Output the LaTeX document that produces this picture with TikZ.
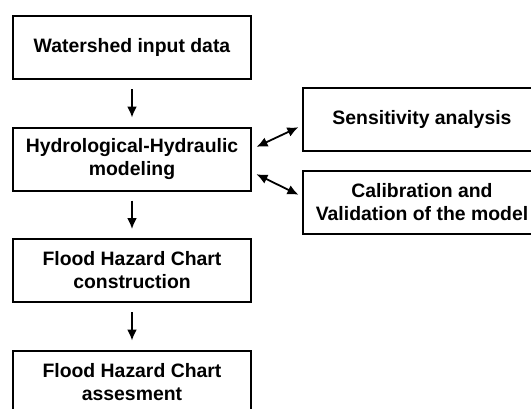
\documentclass[tikz,border=0pt]{standalone}
\usepackage{fontspec}
\newfontfamily\arialfont{Liberation Sans}
\usetikzlibrary{positioning,arrows.meta}

\begin{document}
\begin{tikzpicture}[
	stepbox/.style={
		draw,
		rectangle,
		line width=2pt,
		minimum width=238pt,
		minimum height=63pt,
		inner sep=2pt,
		align=center,
		font=\arialfont\bfseries\fontsize{19.4}{23}\selectfont
	},
	flow/.style={
		line width=1.8pt,
		-{Latex[length=11pt,width=10pt]},
		shorten <=9pt, shorten >=9pt
	},
	both/.style={
		line width=1.8pt,
		{Latex[length=11pt,width=10pt]}-{Latex[length=11pt,width=10pt]},
		shorten <=5pt, shorten >=4pt
	},
	node distance=46.5pt
	]
	\path[use as bounding box, clip] (0,0) rectangle (531pt,-408pt);

	\node[stepbox] at (132pt,-47.5pt) (wdata) {Watershed input data};
	\node[stepbox, below=of wdata] (hhmodel) {Hydrological-Hydraulic\\modeling};
	\node[stepbox, below=of hhmodel] (fhcc) {Flood Hazard Chart\\construction};
	\node[stepbox, below=of fhcc] (fhca) {Flood Hazard Chart\\assesment};

	\node[stepbox] at (422pt,-119.5pt) (sens) {Sensitivity analysis};
	\node[stepbox, below=18pt of sens] (calib) {Calibration and\\Validation of the model};

	\draw[flow] (wdata) -- (hhmodel);
	\draw[flow] (hhmodel) -- (fhcc);
	\draw[flow] (fhcc) -- (fhca);

	\draw[both] ([yshift=10pt]hhmodel.east) -- ([yshift=-6pt]sens.west);
	\draw[both] ([yshift=-13pt]hhmodel.east) -- ([yshift=6pt]calib.west);
\end{tikzpicture}
\end{document}
